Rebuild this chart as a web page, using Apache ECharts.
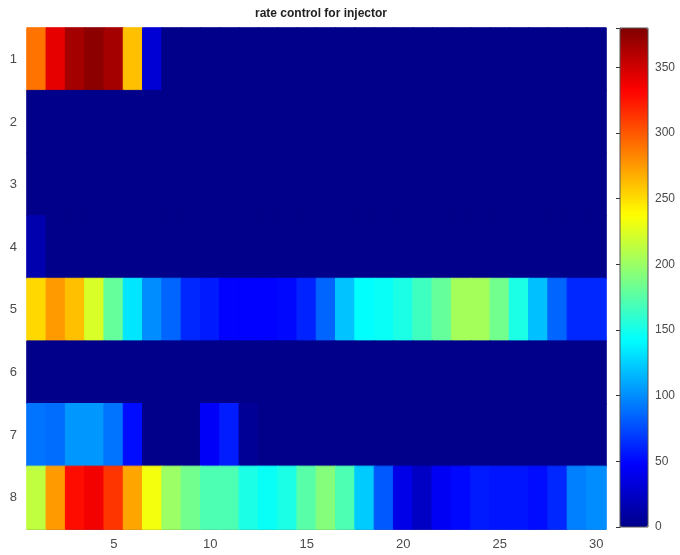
<!DOCTYPE html>
<html>
<head>
<meta charset="utf-8">
<script src="https://cdn.jsdelivr.net/npm/echarts@6/dist/echarts.min.js"></script>
<style>
  html, body { margin: 0; padding: 0; background: #fff; }
  #chart { width: 680px; height: 555px; }
</style>
</head>
<body>
<div id="chart"></div>
<script>
// Injector rows (top to bottom) and time steps along x
const rowLabels = ['1', '2', '3', '4', '5', '6', '7', '8'];
const colLabels = ['1','2','3','4','5','6','7','8','9','10','11','12','13','14','15',
                   '16','17','18','19','20','21','22','23','24','25','26','27','28','29','30'];
const xTickLabels = ['5', '10', '15', '20', '25', '30'];
const colorbarTicks = [0, 50, 100, 150, 200, 250, 300, 350];

// Rate per injector, one value per time step
const rate1 = [290, 342, 366, 375, 366, 261, 30, 0, 0, 0, 0, 0, 0, 0, 0, 0, 0, 0, 0, 0, 0, 0, 0, 0, 0, 0, 0, 0, 0, 0];
const rate2 = [0, 0, 0, 0, 0, 0, 0, 0, 0, 0, 0, 0, 0, 0, 0, 0, 0, 0, 0, 0, 0, 0, 0, 0, 0, 0, 0, 0, 0, 0];
const rate3 = [0, 0, 0, 0, 0, 0, 0, 0, 0, 0, 0, 0, 0, 0, 0, 0, 0, 0, 0, 0, 0, 0, 0, 0, 0, 0, 0, 0, 0, 0];
const rate4 = [15, 0, 0, 0, 0, 0, 0, 0, 0, 0, 0, 0, 0, 0, 0, 0, 0, 0, 0, 0, 0, 0, 0, 0, 0, 0, 0, 0, 0, 0];
const rate5 = [252, 275, 261, 223, 180, 133, 100, 85, 62, 57, 48, 48, 48, 50, 60, 85, 120, 143, 145, 152, 166, 180, 204, 204, 185, 152, 119, 85, 62, 62];
const rate6 = [0, 0, 0, 0, 0, 0, 0, 0, 0, 0, 0, 0, 0, 0, 0, 0, 0, 0, 0, 0, 0, 0, 0, 0, 0, 0, 0, 0, 0, 0];
const rate7 = [90, 88, 104, 104, 90, 52, 0, 0, 0, 45, 58, 5, 0, 0, 0, 0, 0, 0, 0, 0, 0, 0, 0, 0, 0, 0, 0, 0, 0, 0];
const rate8 = [214, 275, 328, 337, 313, 271, 233, 200, 185, 171, 171, 152, 145, 152, 175, 192, 171, 123, 80, 38, 24, 43, 50, 57, 55, 55, 52, 62, 95, 100];

const rates = [rate1, rate2, rate3, rate4, rate5, rate6, rate7, rate8];
const rateMin = 0;
const rateMax = 380;

// Jet colormap stops, evenly spaced
const jet = ['#00008a', '#0000ff', '#0080ff', '#00ffff', '#80ff80',
             '#ffff00', '#ff8000', '#ff0000', '#800000'];

// Each cell gets a thin outline in its own colour so neighbouring cells join without seams
const cells = [];
rates.forEach((row, r) => {
  row.forEach((v, c) => cells.push({
    value: [c, r, v],
    itemStyle: {
      borderColor: echarts.color.lerp((v - rateMin) / (rateMax - rateMin), jet),
      borderWidth: 1
    }
  }));
});

const font = 'Liberation Sans, Arial, sans-serif';
const labelColor = '#4a4a4a';

const chart = echarts.init(document.getElementById('chart'), null, { renderer: 'canvas' });
chart.setOption({
  animation: false,
  backgroundColor: '#ffffff',
  title: {
    text: 'rate control for injector',
    left: 316, top: 3, textAlign: 'center',
    textStyle: { fontFamily: font, fontSize: 12, fontWeight: 'bold', color: '#222' }
  },
  grid: [
    { left: 27, top: 28, width: 579, height: 501, outerBoundsMode: 'none', containLabel: false },
    { left: 620, top: 28, width: 28, height: 499, outerBoundsMode: 'none', containLabel: false,
      show: true, borderColor: '#555', borderWidth: 1, backgroundColor: 'transparent', z: 10 }
  ],
  xAxis: [
    {
      type: 'category', gridIndex: 0, data: colLabels,
      axisLine: { show: true, lineStyle: { color: '#666', width: 1 } },
      axisTick: {
        show: true, inside: true, length: 5, alignWithLabel: true,
        interval: (i, v) => xTickLabels.includes(v),
        lineStyle: { color: '#555' }
      },
      axisLabel: {
        interval: (i, v) => xTickLabels.includes(v),
        margin: 9, fontFamily: font, fontSize: 13, color: labelColor
      },
      splitLine: { show: false }
    },
    {
      type: 'value', gridIndex: 1, min: 0, max: 1, show: false
    }
  ],
  yAxis: [
    {
      type: 'category', gridIndex: 0, data: rowLabels, inverse: true,
      axisLine: { show: true, lineStyle: { color: '#666', width: 1 } },
      axisTick: { show: true, inside: true, length: 5, alignWithLabel: true, lineStyle: { color: '#555' } },
      axisLabel: { margin: 10, fontFamily: font, fontSize: 13, color: labelColor },
      splitLine: { show: false }
    },
    {
      type: 'value', gridIndex: 1, position: 'right', min: rateMin, max: rateMax, interval: 50,
      axisLine: { show: true, lineStyle: { color: '#555', width: 1 } },
      axisTick: { show: true, inside: true, length: 4, lineStyle: { color: '#333' } },
      axisLabel: {
        margin: 7, fontFamily: font, fontSize: 12, color: labelColor,
        formatter: v => (colorbarTicks.includes(v) ? String(v) : '')
      },
      splitLine: { show: false }
    }
  ],
  visualMap: {
    type: 'continuous',
    min: rateMin, max: rateMax,
    seriesIndex: 0,
    calculable: false,
    hoverLink: false,
    orient: 'vertical',
    left: 620, top: 28,
    itemWidth: 28, itemHeight: 499,
    padding: 0,
    text: null,
    showLabel: false,
    inRange: { color: jet }
  },
  series: [{
    type: 'heatmap',
    xAxisIndex: 0, yAxisIndex: 0,
    data: cells,
    emphasis: { disabled: true },
    progressive: 0
  }]
});
</script>
</body>
</html>
